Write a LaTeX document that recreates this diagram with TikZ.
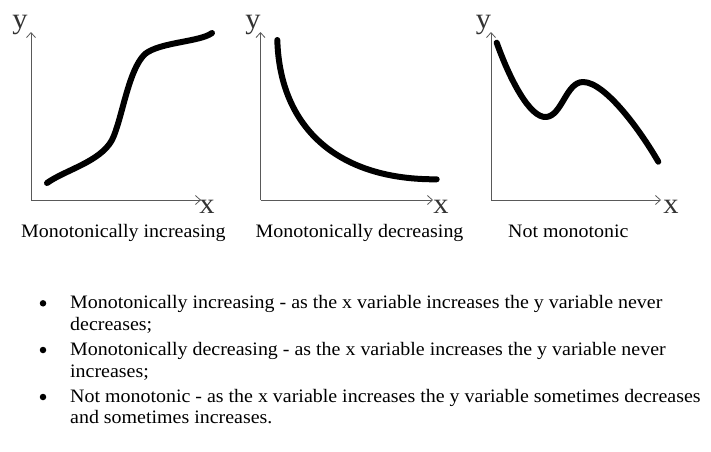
\documentclass[tikz,border=0pt]{standalone}
\usepackage{fontspec}
\setmainfont{Liberation Serif}[FakeStretch=1.05]
\usetikzlibrary{arrows.meta}
\tikzset{
    axis/.style={black!65, line width=0.8pt, -{Straight Barb[length=5pt, width=9pt]}},
    curve/.style={line width=6pt, line cap=round, line join=round},
    axlabel/.style={font=\fontsize{29}{29}\selectfont, text=black!80, inner sep=0pt, anchor=base},
    caption/.style={font=\fontsize{19}{21}\selectfont, inner sep=0pt, anchor=base west},
    bulletdot/.style={circle, fill=black, inner sep=0pt, minimum size=6.5pt},
    itemtext/.style={font=\fontsize{19}{21}\selectfont, inner sep=0pt, anchor=base west}
}

\begin{document}
\begin{tikzpicture}[x=1pt, y=-1pt]
\useasboundingbox (0,0) rectangle (711,451);

% axes of the three small graphs
\foreach \g/\ox/\xe in {inc/31/201, dec/260.5/433, non/491/661}{
    \coordinate (o-\g) at (\ox,200);
    \coordinate (y-\g) at (\ox,32);
    \coordinate (x-\g) at (\xe,200);
    \draw[axis] (o-\g) -- (y-\g);
    \draw[axis] (o-\g) -- (x-\g);
}

\node[axlabel] (ylab-inc) at (20,28) {y};
\node[axlabel] (xlab-inc) at (207,213.5) {x};
\node[axlabel] (ylab-dec) at (253,28) {y};
\node[axlabel] (xlab-dec) at (441,213.5) {x};
\node[axlabel] (ylab-non) at (483.5,28) {y};
\node[axlabel] (xlab-non) at (671,213.5) {x};

% the curves
\draw[curve] (47,183) .. controls (65,170) and (100,162) .. (112,140)
    .. controls (122,120) and (128,70) .. (145,54)
    .. controls (160,42) and (200,42) .. (212,33);
\draw[curve] (277.3,40) .. controls (280,130) and (340,180) .. (436.7,179.3);
\draw[curve] (496.7,42.7) .. controls (510,80) and (530,118) .. (546,117)
    .. controls (562,116) and (566,82) .. (583,82)
    .. controls (605,82) and (640,130) .. (658.3,161.7);

\node[caption] (cap-inc) at (21,237.5) {Monotonically increasing};
\node[caption] (cap-dec) at (255.5,237.5) {Monotonically decreasing};
\node[caption] (cap-non) at (508,237.5) {Not monotonic};

% the list below
\node[bulletdot] (b1) at (43,303.3) {};
\node[bulletdot] (b2) at (43,350) {};
\node[bulletdot] (b3) at (43,397) {};

\node[itemtext] (t1a) at (70,308.3) {Monotonically increasing - as the x variable increases the y variable never};
\node[itemtext] (t1b) at (70,330) {decreases;};
\node[itemtext] (t2a) at (70,355) {Monotonically decreasing - as the x variable increases the y variable never};
\node[itemtext] (t2b) at (70,377) {increases;};
\node[itemtext] (t3a) at (70,402) {Not monotonic - as the x variable increases the y variable sometimes decreases};
\node[itemtext] (t3b) at (70,423.5) {and sometimes increases.};
\end{tikzpicture}
\end{document}
